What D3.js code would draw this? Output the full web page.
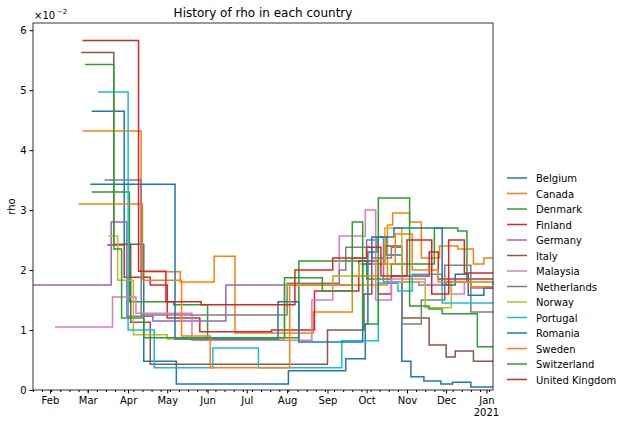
<!DOCTYPE html>
<html lang="en">
<head>
<meta charset="UTF-8">
<title>History of rho</title>
<script src="https://d3js.org/d3.v7.min.js"></script>
<style>
  body { margin: 0; background: #fff; font-family: "DejaVu Sans", sans-serif; }
  svg text { font-family: "DejaVu Sans", sans-serif; }
</style>
</head>
<body>
<svg id="chart" width="637" height="422"></svg>
<script>
var countries = ["Belgium","Canada","Denmark","Finland","Germany","Italy","Malaysia","Netherlands","Norway","Portugal","Romania","Sweden","Switzerland","United Kingdom"];
var colors = ["#1f77b4","#ff7f0e","#2ca02c","#d62728","#9467bd","#8c564b","#e377c2","#7f7f7f","#bcbd22","#17becf","#1f77b4","#ff7f0e","#2ca02c","#d62728"];
var yTicks = [0,1,2,3,4,5,6];

// step points: [date, rho x100]
var belgium = [["2020-03-04",4.65],["2020-03-29",2.43],["2020-04-13",0.48],["2020-05-08",0.10],["2020-08-02",0.32],["2020-09-15",0.52],["2020-09-30",1.10],["2020-10-02",2.30],["2020-10-09",2.55],["2020-10-16",2.25],["2020-10-28",0.48],["2020-11-04",0.22],["2020-11-14",0.15],["2020-11-27",0.10],["2020-12-06",0.13],["2020-12-20",0.05],["2021-01-06",0.05]];
var canada = [["2020-02-26",4.32],["2020-04-11",1.97],["2020-05-11",1.80],["2020-06-06",2.23],["2020-06-22",0.95],["2020-08-21",1.30],["2020-09-20",1.75],["2020-10-05",1.75],["2020-10-17",2.75],["2020-10-21",2.95],["2020-11-03",2.80],["2020-11-12",2.20],["2020-11-26",2.40],["2020-12-10",2.35],["2020-12-22",2.10],["2020-12-30",2.20],["2021-01-06",2.20]];
var denmark = [["2020-03-04",3.30],["2020-04-02",1.47],["2020-05-06",1.42],["2020-06-01",0.87],["2020-08-10",2.15],["2020-10-01",1.85],["2020-10-20",2.10],["2020-11-22",2.70],["2020-12-10",2.65],["2020-12-17",1.80],["2021-01-06",1.80]];
var finland = [["2020-03-16",2.42],["2020-03-29",1.88],["2020-04-18",1.75],["2020-05-01",1.20],["2020-05-26",0.97],["2020-07-20",1.00],["2020-08-22",1.65],["2020-09-25",2.15],["2020-10-10",1.60],["2020-10-20",1.90],["2020-11-18",2.30],["2020-11-25",1.85],["2021-01-06",1.85]];
var germany = [["2020-01-19",1.75],["2020-03-19",2.80],["2020-03-31",1.23],["2020-04-20",1.15],["2020-06-15",1.75],["2020-08-25",1.75],["2020-09-20",2.20],["2020-10-01",2.50],["2020-10-08",2.55],["2020-10-14",1.80],["2020-11-10",1.75],["2020-12-01",1.80],["2020-12-20",1.70],["2021-01-06",1.70]];
var italy = [["2020-02-25",5.63],["2020-03-21",2.43],["2020-04-03",1.13],["2020-04-18",0.43],["2020-09-01",1.00],["2020-09-29",1.60],["2020-10-05",2.10],["2020-10-15",2.40],["2020-10-28",1.20],["2020-11-18",0.75],["2020-12-01",0.55],["2020-12-08",0.65],["2020-12-22",0.48],["2021-01-06",0.48]];
var malaysia = [["2020-02-05",1.05],["2020-03-20",1.55],["2020-04-07",1.28],["2020-05-20",0.83],["2020-08-20",1.50],["2020-09-05",1.90],["2020-09-10",2.57],["2020-09-30",3.00],["2020-10-08",1.50],["2020-10-20",1.85],["2020-11-15",1.75],["2020-12-05",1.60],["2020-12-15",1.80],["2021-01-06",1.75]];
var netherlands = [["2020-03-14",3.50],["2020-04-11",1.25],["2020-08-01",1.78],["2020-09-10",2.00],["2020-09-15",2.38],["2020-10-05",2.20],["2020-10-20",2.38],["2020-10-28",1.10],["2020-11-12",1.50],["2020-11-30",2.08],["2020-12-20",1.30],["2021-01-06",1.30]];
var norway = [["2020-03-17",2.57],["2020-03-24",1.83],["2020-04-05",0.92],["2020-05-01",0.85],["2020-07-30",1.75],["2020-09-05",1.90],["2020-09-25",2.10],["2020-10-15",2.70],["2020-10-28",1.80],["2020-11-15",1.37],["2020-12-05",1.80],["2021-01-06",1.80]];
var portugal = [["2020-03-09",4.97],["2020-04-01",1.00],["2020-04-21",0.37],["2020-06-05",0.70],["2020-07-10",0.37],["2020-09-12",0.82],["2020-10-10",1.78],["2020-10-25",1.65],["2020-11-05",1.93],["2020-11-28",1.45],["2021-01-06",1.45]];
var romania = [["2020-03-03",3.43],["2020-05-07",0.85],["2020-07-25",1.47],["2020-08-10",0.80],["2020-09-28",2.10],["2020-10-05",2.55],["2020-10-22",2.70],["2020-11-28",1.75],["2020-12-08",1.93],["2020-12-18",1.58],["2020-12-30",1.70],["2021-01-06",1.70]];
var sweden = [["2020-02-23",3.10],["2020-04-12",1.83],["2020-05-12",0.90],["2020-06-03",0.37],["2020-08-03",1.75],["2020-09-20",1.90],["2020-10-10",2.10],["2020-10-23",2.60],["2020-11-05",2.00],["2020-11-25",1.80],["2020-12-20",1.72],["2021-01-06",1.72]];
var switzerland = [["2020-02-28",5.43],["2020-03-21",2.35],["2020-03-27",1.20],["2020-04-13",0.87],["2020-07-30",1.87],["2020-08-28",1.65],["2020-09-20",2.80],["2020-09-28",1.10],["2020-10-10",3.20],["2020-11-03",1.40],["2020-11-18",1.35],["2020-11-28",1.27],["2020-12-25",0.72],["2021-01-06",0.72]];
var uk = [["2020-02-26",5.83],["2020-04-09",1.98],["2020-04-30",1.47],["2020-05-27",1.42],["2020-08-07",2.00],["2020-09-05",2.20],["2020-10-01",2.38],["2020-10-12",1.90],["2020-11-01",2.50],["2020-11-20",1.60],["2020-12-03",2.50],["2020-12-15",1.95],["2021-01-06",1.95]];

var series = [belgium,canada,denmark,finland,germany,italy,malaysia,netherlands,norway,portugal,romania,sweden,switzerland,uk];

var margin = {top: 23, left: 33}, width = 460, height = 367;
var svg = d3.select("#chart");
var g = svg.append("g").attr("transform", "translate(" + margin.left + "," + margin.top + ")");
var parse = d3.timeParse("%Y-%m-%d");

var x = d3.scaleTime().domain([parse("2020-01-19"), parse("2021-01-06")]).range([0, width]);
var y = d3.scaleLinear().domain([0, 6.12]).range([height, 0]);

var line = d3.line().curve(d3.curveStepAfter)
  .x(function(d) { return x(parse(d[0])); })
  .y(function(d) { return y(d[1]); });

series.forEach(function(s, i) {
  g.append("path").datum(s).attr("d", line)
    .attr("fill", "none").attr("stroke", colors[i]).attr("stroke-width", 1.5);
});

// axes
var xAx = g.append("g").attr("transform", "translate(0," + height + ")")
  .call(d3.axisBottom(x).ticks(d3.timeMonth.every(1)).tickSize(3.5)
    .tickFormat(function(d) { return d3.timeFormat("%b")(d); }));
xAx.select(".domain").remove();
xAx.selectAll("text").attr("font-size", 10);
g.append("g").attr("transform", "translate(0," + height + ")")
  .call(d3.axisBottom(x).ticks(d3.timeWeek.every(1)).tickSize(2).tickFormat(""))
  .select(".domain").remove();
g.append("text").attr("x", x(parse("2021-01-01"))).attr("y", height + 26)
  .attr("text-anchor", "middle").attr("font-size", 10).text("2021");

var yAx = g.append("g").call(d3.axisLeft(y).tickValues(yTicks).tickSize(3.5).tickFormat(d3.format("d")));
yAx.select(".domain").remove();
yAx.selectAll("text").attr("font-size", 10);

g.append("rect").attr("width", width).attr("height", height)
  .attr("fill", "none").attr("stroke", "#000").attr("stroke-width", 0.8);

svg.append("text").attr("x", 34).attr("y", 19).attr("font-size", 10).text("\u00d710");
svg.append("text").attr("x", 57).attr("y", 14).attr("font-size", 7).text("\u22122");

svg.append("text").attr("x", margin.left + width / 2).attr("y", 17)
  .attr("text-anchor", "middle").attr("font-size", 12).text("History of rho in each country");
svg.append("text").attr("transform", "translate(15," + (margin.top + height / 2) + ") rotate(-90)")
  .attr("text-anchor", "middle").attr("font-size", 10).text("rho");

var leg = svg.append("g").attr("transform", "translate(507,178)");
countries.forEach(function(c, i) {
  var r = leg.append("g").attr("transform", "translate(0," + i * 15.5 + ")");
  r.append("line").attr("x1", 0).attr("x2", 20).attr("stroke", colors[i]).attr("stroke-width", 1.5);
  r.append("text").attr("x", 29).attr("y", 4).attr("font-size", 10).text(c);
});
</script>
</body>
</html>
